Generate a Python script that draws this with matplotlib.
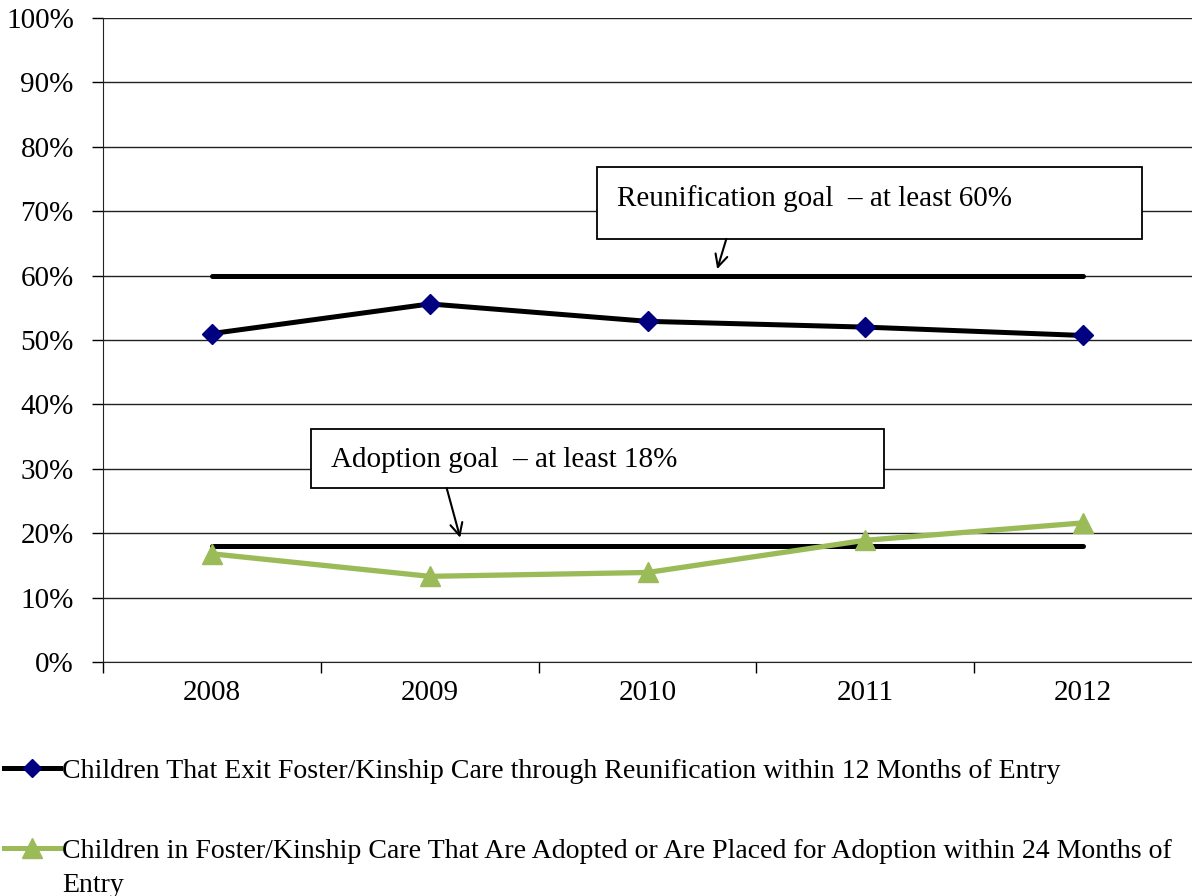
import matplotlib
matplotlib.use("Agg")
import matplotlib.pyplot as plt
from matplotlib.lines import Line2D
from matplotlib.patches import Rectangle

plt.rcParams['font.family'] = ['Liberation Serif', 'DejaVu Serif']

years = ['2008', '2009', '2010', '2011', '2012']
reunification = [51.0, 55.6, 52.9, 52.0, 50.7]
adoption = [16.8, 13.3, 13.9, 18.9, 21.6]
reunification_goal = 60
adoption_goal = 18

reun_label = "Children That Exit Foster/Kinship Care through Reunification within 12 Months of Entry"
adopt_label = "Children in Foster/Kinship Care That Are Adopted or Are Placed for Adoption within 24 Months of"
adopt_label_2 = "Entry"

navy = '#000080'
green = '#9BBB59'
fs = 21
legend_fs = 20.1

fig = plt.figure(figsize=(11.92, 8.96), dpi=100)
ax = fig.add_axes([103 / 1192, 1 - 662 / 896, 1 - 103 / 1192, (662 - 18) / 896])

x = list(range(len(years)))

# goal lines
ax.plot([x[0], x[-1]], [reunification_goal] * 2, color='black', lw=3.6,
        solid_capstyle='round', zorder=3)
ax.plot([x[0], x[-1]], [adoption_goal] * 2, color='black', lw=3.6,
        solid_capstyle='round', zorder=3)

# series
ax.plot(x, reunification, color='black', lw=3.6, marker='D', ms=10.5,
        markerfacecolor=navy, markeredgecolor=navy, zorder=4)
ax.plot(x, adoption, color=green, lw=3.8, marker='^', ms=15,
        markerfacecolor=green, markeredgecolor=green, zorder=4)

ax.set_xlim(-0.5, len(years) - 0.5)
ax.set_ylim(0, 100)
ax.set_yticks(range(0, 101, 10))
ax.set_yticklabels([f'{v}%' for v in range(0, 101, 10)], fontsize=fs)
ax.set_xticks(x)
ax.set_xticklabels(years, fontsize=fs)
ax.set_xticks([i - 0.5 for i in range(len(years))], minor=True)
ax.tick_params(axis='x', which='major', length=0, pad=13)
ax.tick_params(axis='x', which='minor', length=8, width=1, direction='out')
ax.tick_params(axis='y', length=8, width=1, direction='out', pad=13)

ax.grid(axis='y', color='#222222', lw=1)
ax.set_axisbelow(True)
for side in ('top', 'right'):
    ax.spines[side].set_visible(False)
for side in ('left', 'bottom'):
    ax.spines[side].set_color('#222222')

# annotation boxes
def goal_box(x0, x1, y0, y1, text, tx, ty, arrow_from, arrow_to):
    ax.add_patch(Rectangle((x0, y0), x1 - x0, y1 - y0, facecolor='white',
                           edgecolor='black', lw=1.3, zorder=5))
    ax.text(tx, ty, text, fontsize=fs, va='center', ha='left', zorder=6)
    ax.annotate('', xy=arrow_to, xytext=arrow_from, zorder=6,
                arrowprops=dict(arrowstyle='->', color='black', lw=1.5,
                                mutation_scale=22, shrinkA=0, shrinkB=0))

goal_box(1.77, 4.27, 65.7, 76.9, "Reunification goal  \u2013 at least 60%",
         1.862, 72.0, (2.362, 65.7), (2.32, 61.0))
goal_box(0.454, 3.087, 27.0, 36.2, "Adoption goal  \u2013 at least 18%",
         0.546, 31.4, (1.078, 27.0), (1.14, 19.3))

# legend
def legend_entry(y, color, marker, mcolor, ms, text_lines):
    fig.add_artist(Line2D([0.003, 0.0265, 0.050], [y, y, y], transform=fig.transFigure,
                          color=color, lw=3.6, marker=marker, ms=ms, markevery=[1],
                          markerfacecolor=mcolor, markeredgecolor=mcolor))
    for i, line in enumerate(text_lines):
        fig.text(0.052, y - 3 / 896 - i * 34 / 896, line, fontsize=legend_fs,
                 va='center', ha='left')

legend_entry(1 - 768 / 896, 'black', 'D', navy, 9.5, [reun_label])
legend_entry(1 - 848 / 896, green, '^', green, 14, [adopt_label, adopt_label_2])

fig.savefig('out.png', dpi=100)
